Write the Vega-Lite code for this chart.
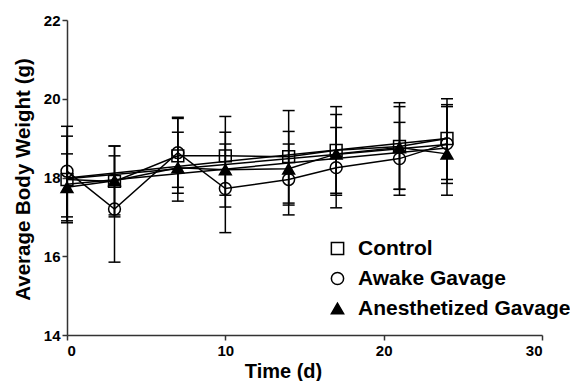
{
  "$schema": "https://vega.github.io/schema/vega-lite/v6.json",
  "width": 475,
  "height": 315,
  "autosize": "none",
  "padding": {"left": 67, "top": 20, "right": 28, "bottom": 46},
  "background": "white",
  "config": {
    "view": {"stroke": null},
    "font": "Liberation Sans",
    "axis": {
      "grid": false,
      "domainColor": "#333333",
      "domainWidth": 1.5,
      "tickColor": "#333333",
      "tickWidth": 1.5,
      "tickSize": 5,
      "labelColor": "black",
      "labelFont": "Liberation Sans",
      "labelFontWeight": "bold",
      "labelFontSize": 15,
      "titleFont": "Liberation Sans",
      "titleFontWeight": "bold",
      "titleColor": "black"
    }
  },
  "datasets": {
    "pts": [
      {"group": "Control", "day": 0, "w": 17.95, "lo": 16.85, "hi": 19.05},
      {"group": "Control", "day": 3, "w": 17.9, "lo": 17.0, "hi": 18.8},
      {"group": "Control", "day": 7, "w": 18.55, "lo": 17.6, "hi": 19.5},
      {"group": "Control", "day": 10, "w": 18.55, "lo": 17.55, "hi": 19.55},
      {"group": "Control", "day": 14, "w": 18.53, "lo": 17.35, "hi": 19.7},
      {"group": "Control", "day": 17, "w": 18.69, "lo": 17.55, "hi": 19.8},
      {"group": "Control", "day": 21, "w": 18.79, "lo": 17.7, "hi": 19.9},
      {"group": "Control", "day": 24, "w": 18.99, "lo": 17.95, "hi": 20.0},
      {"group": "Awake Gavage", "day": 0, "w": 18.16, "lo": 17.0, "hi": 19.3},
      {"group": "Awake Gavage", "day": 3, "w": 17.2, "lo": 15.85, "hi": 18.55},
      {"group": "Awake Gavage", "day": 7, "w": 18.63, "lo": 17.75, "hi": 19.53},
      {"group": "Awake Gavage", "day": 10, "w": 17.72, "lo": 16.6, "hi": 18.85},
      {"group": "Awake Gavage", "day": 14, "w": 17.95, "lo": 17.05, "hi": 18.85},
      {"group": "Awake Gavage", "day": 17, "w": 18.25, "lo": 17.23, "hi": 19.27},
      {"group": "Awake Gavage", "day": 21, "w": 18.48, "lo": 17.55, "hi": 19.4},
      {"group": "Awake Gavage", "day": 24, "w": 18.86, "lo": 17.85, "hi": 19.85},
      {"group": "Anesthetized Gavage", "day": 0, "w": 17.75, "lo": 16.9, "hi": 18.6},
      {"group": "Anesthetized Gavage", "day": 3, "w": 17.92, "lo": 17.05, "hi": 18.8},
      {"group": "Anesthetized Gavage", "day": 7, "w": 18.25, "lo": 17.4, "hi": 19.15},
      {"group": "Anesthetized Gavage", "day": 10, "w": 18.2, "lo": 17.25, "hi": 19.15},
      {"group": "Anesthetized Gavage", "day": 14, "w": 18.22, "lo": 17.3, "hi": 19.17},
      {"group": "Anesthetized Gavage", "day": 17, "w": 18.6, "lo": 17.6, "hi": 19.6},
      {"group": "Anesthetized Gavage", "day": 21, "w": 18.76, "lo": 17.7, "hi": 19.8},
      {"group": "Anesthetized Gavage", "day": 24, "w": 18.6, "lo": 17.55, "hi": 19.8}
    ],
    "fit": [
      {"group": "Control", "day": 0, "w": 17.99},
      {"group": "Control", "day": 24, "w": 18.99},
      {"group": "Awake Gavage", "day": 0, "w": 17.97},
      {"group": "Awake Gavage", "day": 24, "w": 18.84},
      {"group": "Anesthetized Gavage", "day": 0, "w": 17.83},
      {"group": "Anesthetized Gavage", "day": 24, "w": 18.75}
    ]
  },
  "layer": [
    {
      "data": {"name": "fit"},
      "mark": {"type": "line", "color": "black", "strokeWidth": 1.5},
      "encoding": {
        "x": {
          "field": "day", "type": "quantitative",
          "scale": {"domain": [0, 30], "nice": false},
          "title": "Time (d)",
          "axis": {"values": [0, 10, 20, 30], "labelPadding": 3, "titleFontSize": 20, "titleX": 216, "titleY": 42, "titleBaseline": "alphabetic"}
        },
        "y": {
          "field": "w", "type": "quantitative",
          "scale": {"domain": [14, 22], "nice": false, "zero": false},
          "title": "Average Body Weight (g)",
          "axis": {"values": [14, 16, 18, 20, 22], "labelPadding": 2, "titleFontSize": 20.5, "titleX": -44, "titleY": 159, "titleAngle": -90, "titleAlign": "center", "titleBaseline": "middle"}
        },
        "detail": {"field": "group"}
      }
    },
    {
      "data": {"name": "pts"},
      "mark": {"type": "line", "color": "black", "strokeWidth": 1.5},
      "encoding": {
        "x": {"field": "day", "type": "quantitative", "title": "Time (d)"},
        "y": {"field": "w", "type": "quantitative", "title": "Average Body Weight (g)"},
        "detail": {"field": "group"}
      }
    },
    {
      "data": {"name": "pts"},
      "mark": {"type": "rule", "color": "black", "strokeWidth": 1.5},
      "encoding": {
        "x": {"field": "day", "type": "quantitative", "title": "Time (d)"},
        "y": {"field": "lo", "type": "quantitative", "title": "Average Body Weight (g)"},
        "y2": {"field": "hi"}
      }
    },
    {
      "data": {"name": "pts"},
      "mark": {"type": "tick", "orient": "horizontal", "color": "black", "size": 12, "thickness": 1.5, "opacity": 1},
      "encoding": {
        "x": {"field": "day", "type": "quantitative", "title": "Time (d)"},
        "y": {"field": "lo", "type": "quantitative", "title": "Average Body Weight (g)"}
      }
    },
    {
      "data": {"name": "pts"},
      "mark": {"type": "tick", "orient": "horizontal", "color": "black", "size": 12, "thickness": 1.5, "opacity": 1},
      "encoding": {
        "x": {"field": "day", "type": "quantitative", "title": "Time (d)"},
        "y": {"field": "hi", "type": "quantitative", "title": "Average Body Weight (g)"}
      }
    },
    {
      "data": {"name": "pts"},
      "mark": {"type": "point", "filled": false, "strokeWidth": 1.5, "size": 140, "opacity": 1},
      "encoding": {
        "x": {"field": "day", "type": "quantitative", "title": "Time (d)"},
        "y": {"field": "w", "type": "quantitative", "title": "Average Body Weight (g)"},
        "color": {
          "field": "group",
          "type": "nominal",
          "title": null,
          "scale": {"domain": ["Control", "Awake Gavage", "Anesthetized Gavage"], "range": ["black", "black", "black"]},
          "legend": {
            "orient": "none",
            "legendX": 260,
            "legendY": 218,
            "title": null,
            "labelFont": "Liberation Sans",
            "labelFontSize": 21,
            "labelFontWeight": "bold",
            "labelColor": "black",
            "labelLimit": 0,
            "symbolSize": 150,
            "symbolStrokeWidth": 1.5,
            "rowPadding": 8,
            "labelOffset": 10,
            "encode": {
              "symbols": {
                "enter": {
                  "shape": {"signal": "datum.value === 'Control' ? 'M-1,-1H1V1H-1Z M-1.3,0H1.3' : (datum.value === 'Awake Gavage' ? 'M-1,0A1,1 0 1,0 1,0A1,1 0 1,0 -1,0Z M-1.3,0H1.3' : 'M0,-1L1.05,0.8L-1.05,0.8Z M-1.3,0.3H1.3')"}
                },
                "update": {
                  "shape": {"signal": "datum.value === 'Control' ? 'M-1,-1H1V1H-1Z M-1.3,0H1.3' : (datum.value === 'Awake Gavage' ? 'M-1,0A1,1 0 1,0 1,0A1,1 0 1,0 -1,0Z M-1.3,0H1.3' : 'M0,-1L1.05,0.8L-1.05,0.8Z M-1.3,0.3H1.3')"},
                  "fill": {"signal": "datum.value === 'Anesthetized Gavage' ? 'black' : 'transparent'"},
                  "stroke": {"value": "black"},
                  "strokeWidth": {"value": 1.5},
                  "opacity": {"value": 1}
                }
              }
            }
          }
        },
        "shape": {
          "field": "group",
          "type": "nominal",
          "title": null,
          "scale": {"domain": ["Control", "Awake Gavage", "Anesthetized Gavage"], "range": ["square", "circle", "triangle-up"]},
          "legend": null
        },
        "fill": {
          "field": "group",
          "type": "nominal",
          "scale": {"domain": ["Control", "Awake Gavage", "Anesthetized Gavage"], "range": ["transparent", "transparent", "black"]},
          "legend": null
        }
      }
    }
  ]
}
